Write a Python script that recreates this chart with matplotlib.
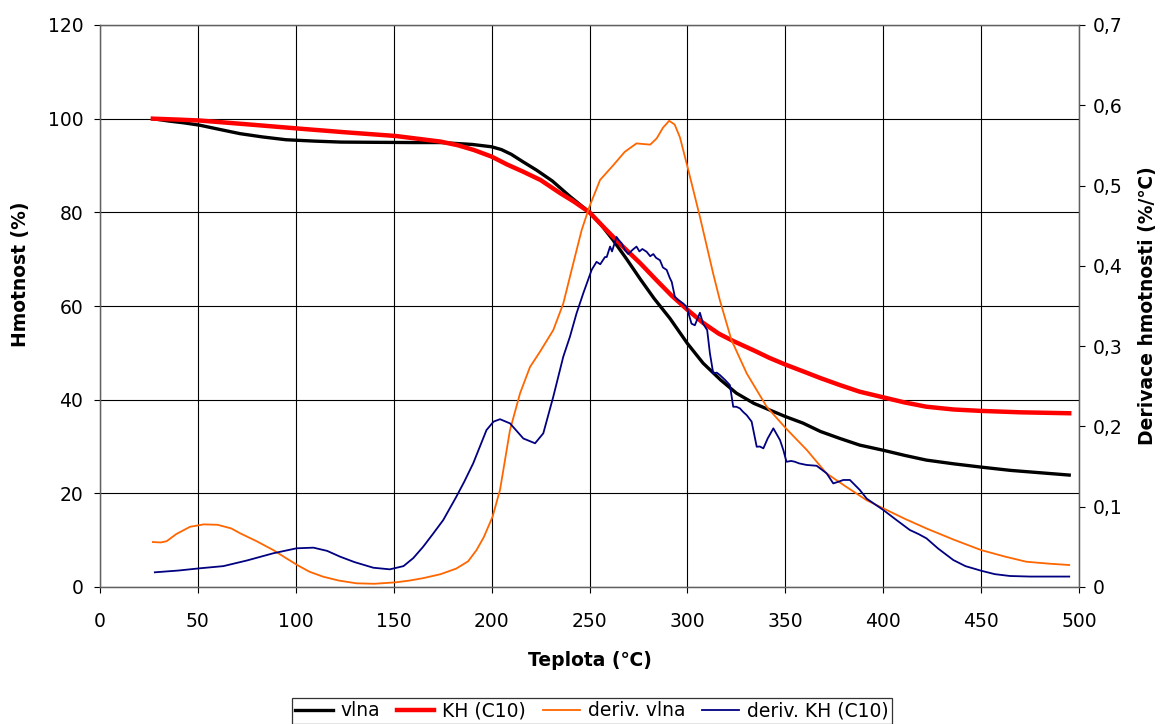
import matplotlib
matplotlib.use("Agg")
import matplotlib.pyplot as plt
from matplotlib.lines import Line2D
from matplotlib.ticker import FixedLocator, FuncFormatter

plt.rcParams['font.family'] = ['DejaVu Sans']
plt.rcParams['font.size'] = 13.5

# --- mass curves (left axis, %) ---
t_vlna = [27, 35, 43, 51, 60, 71.5, 83, 95, 110, 123, 140, 160, 174, 190, 200,
          205, 210, 216, 223, 231, 240, 250, 256, 262, 269, 276, 283, 291, 300,
          308, 317, 325, 334, 342, 350, 359, 368, 378, 388, 400, 411, 422, 436,
          450, 465, 480, 495]
m_vlna = [100, 99.5, 99.1, 98.6, 97.8, 96.8, 96.1, 95.5, 95.2, 95.0, 94.95, 94.9,
          94.9, 94.5, 94.0, 93.4, 92.4, 90.8, 89.0, 86.7, 83.4, 80.0, 77.3, 74.1,
          70.0, 65.7, 61.6, 57.4, 52.0, 47.8, 44.2, 41.4, 39.2, 37.8, 36.4, 35.0,
          33.2, 31.7, 30.3, 29.2, 28.1, 27.1, 26.3, 25.6, 24.9, 24.4, 23.9]

t_kh = [27, 40, 51, 75, 101, 125, 151, 174, 183, 191, 200, 208, 216, 225, 235,
        242, 250, 258, 267, 276, 284, 292, 300, 308, 316, 323, 334, 342, 350,
        360, 368, 378, 388, 400, 411, 422, 436, 450, 470, 495]
m_kh = [100, 99.8, 99.6, 98.8, 97.9, 97.1, 96.3, 95.1, 94.3, 93.3, 91.9, 90.2,
        88.7, 86.9, 84.1, 82.3, 80.0, 76.5, 72.7, 69.1, 65.6, 62.2, 59.2, 56.4,
        54.1, 52.6, 50.5, 48.9, 47.5, 45.9, 44.6, 43.1, 41.7, 40.5, 39.4, 38.5,
        37.9, 37.6, 37.3, 37.1]

# --- derivative curves (right axis, %/°C) ---
t_dvlna = [27, 31, 34, 39, 46, 53, 60, 67, 71.5, 80, 88.5, 95, 101, 107, 114, 122,
           131, 140, 151, 158, 165, 174, 182, 188, 192.3, 196, 200.5, 204.3, 209.4,
           214.5, 219.6, 224.7, 231.5, 236.6, 241.7, 246, 250, 255.4, 262.2, 268,
           274, 281, 284.3, 287.5, 290.7, 293.5, 296.2, 300.5, 306.4, 313.2, 316.6,
           322.5, 330.3, 340.5, 350.3, 361, 371, 381, 391.6, 400, 411, 422, 436,
           450, 462, 473, 485, 495]
d_dvlna = [0.056, 0.0555, 0.057, 0.066, 0.075, 0.078, 0.0775, 0.073, 0.067, 0.057,
           0.046, 0.036, 0.027, 0.019, 0.0128, 0.008, 0.0046, 0.004, 0.0058, 0.008,
           0.011, 0.016, 0.023, 0.032, 0.046, 0.062, 0.0876, 0.121, 0.1955, 0.241,
           0.274, 0.293, 0.32, 0.353, 0.403, 0.4446, 0.474, 0.507, 0.5255, 0.542,
           0.5525, 0.551, 0.5587, 0.572, 0.5807, 0.576, 0.56, 0.519, 0.461, 0.39,
           0.357, 0.3076, 0.266, 0.2245, 0.1976, 0.1706, 0.1416, 0.125, 0.108,
           0.098, 0.085, 0.073, 0.059, 0.046, 0.038, 0.0315, 0.029, 0.0274]

t_dkh = [28, 40, 51, 63, 75, 88.5, 100.4, 109, 116, 122.6, 130, 139.6, 148, 155,
         160, 165, 170, 175.3, 182, 186, 190.6, 197.4, 201, 204.3, 209.4, 216.2,
         222.2, 226.4, 231.5, 236.6, 240, 243.4, 246.8, 251.1, 253.6, 255.5, 257.9,
         258.8, 260.5, 261.5, 263.8, 265, 266.4, 268, 269.8, 272, 274, 275.5, 277,
         279.2, 281, 282.6, 284, 286, 287.5, 289.4, 291, 292, 293.6, 295, 297.9,
         299.6, 302.1, 303.8, 306.4, 308, 310.1, 311.5, 313.2, 315, 316.6, 319.2,
         321.7, 323.4, 325, 326.8, 328.5, 330.3, 332.8, 335.4, 337, 338.8, 341,
         343.9, 347.3, 349, 350.6, 353, 354.9, 357, 360.9, 366, 371.1, 374.5, 377,
         379.6, 383, 388, 391.6, 400, 407, 413.6, 418, 422.1, 428, 435.8, 442, 450,
         457, 464.8, 475, 495]
d_dkh = [0.0183, 0.0205, 0.0233, 0.026, 0.033, 0.042, 0.0482, 0.049, 0.045, 0.0378,
         0.031, 0.024, 0.022, 0.026, 0.036, 0.050, 0.066, 0.0834, 0.1125, 0.131,
         0.154, 0.1955, 0.206, 0.209, 0.2038, 0.185, 0.179, 0.1914, 0.237, 0.2868,
         0.3117, 0.341, 0.3657, 0.395, 0.405, 0.402, 0.411, 0.411, 0.424, 0.418,
         0.436, 0.432, 0.428, 0.42, 0.4147, 0.42, 0.424, 0.418, 0.421, 0.4175,
         0.412, 0.4147, 0.41, 0.407, 0.398, 0.395, 0.385, 0.380, 0.3615, 0.358,
         0.353, 0.349, 0.328, 0.326, 0.3416, 0.328, 0.320, 0.291, 0.266, 0.267,
         0.264, 0.258, 0.2515, 0.2245, 0.2245, 0.2225, 0.218, 0.214, 0.206, 0.1747,
         0.175, 0.1727, 0.185, 0.1976, 0.183, 0.1706, 0.156, 0.157, 0.156, 0.154,
         0.152, 0.151, 0.1416, 0.129, 0.131, 0.1333, 0.1333, 0.121, 0.110, 0.096,
         0.083, 0.071, 0.066, 0.0606, 0.048, 0.0336, 0.026, 0.0203, 0.016, 0.0137,
         0.013, 0.013]

labels = ['vlna', 'KH (C10)', 'deriv. vlna', 'deriv. KH (C10)']
colors = ['#000000', '#ff0000', '#ff6600', '#000080']
widths = [2.4, 3.2, 1.3, 1.3]

fig = plt.figure(figsize=(11.64, 7.24), dpi=100)
ax = fig.add_axes([100 / 1164, 137 / 724, 979 / 1164, 562 / 724])
ax2 = ax.twinx()

ax.plot(t_vlna, m_vlna, color=colors[0], lw=widths[0])
ax.plot(t_kh, m_kh, color=colors[1], lw=widths[1])
ax2.plot(t_dvlna, d_dvlna, color=colors[2], lw=widths[2])
ax2.plot(t_dkh, d_dkh, color=colors[3], lw=widths[3])

ax.set_xlim(0, 500)
ax.set_ylim(0, 120)
ax2.set_ylim(0, 0.7)
ax.xaxis.set_major_locator(FixedLocator(range(0, 501, 50)))
ax.yaxis.set_major_locator(FixedLocator(range(0, 121, 20)))
ax2.yaxis.set_major_locator(FixedLocator([i / 10 for i in range(8)]))
ax2.yaxis.set_major_formatter(FuncFormatter(
    lambda v, p: ('%.1f' % v).replace('.', ',') if v > 0 else '0'))

ax.grid(True, color='#000000', lw=0.8)
ax.set_axisbelow(True)
for a in (ax, ax2):
    for s in a.spines.values():
        s.set_color('#606060')
        s.set_linewidth(0.9)

ax.tick_params(axis='x', direction='out', length=4, width=0.8, pad=14)
ax.tick_params(axis='y', direction='out', length=4, width=0.8, pad=8)
ax2.tick_params(axis='y', direction='out', length=4, width=0.8, pad=6)

ax.set_xlabel('Teplota (℃)', fontweight='bold')
ax.set_ylabel('Hmotnost (%)', fontweight='bold')
ax2.set_ylabel('Derivace hmotnosti (%/℃)', fontweight='bold')
ax.xaxis.set_label_coords(0.5, (587 - 660) / 562)
ax.yaxis.set_label_coords((21 - 100) / 979, (587 - 274) / 562)
ax2.yaxis.set_label_coords((1147 - 100) / 979, 0.5)
ax.xaxis.label.set_va('center')
ax.yaxis.label.set_va('center')
ax2.yaxis.label.set_va('center')

handles = [Line2D([], [], color=c, lw=w) for c, w in zip(colors, widths)]
leg = fig.legend(handles, labels, loc='center', ncol=4,
                 bbox_to_anchor=(592 / 1164, 1 - 711 / 724),
                 frameon=True, fancybox=False, edgecolor='#000000',
                 handlelength=2.0, handletextpad=0.4, columnspacing=0.9,
                 borderpad=0.2, borderaxespad=0)
leg.get_frame().set_linewidth(0.9)

fig.savefig('out.png', dpi=100)
